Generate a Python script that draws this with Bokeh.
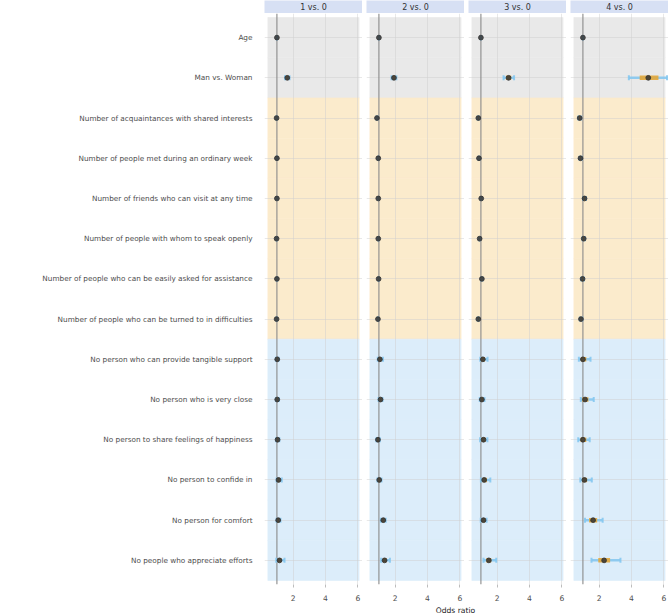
from bokeh.plotting import figure
from bokeh.models import (Range1d, FactorRange, FixedTicker, Span, Whisker,
                          ColumnDataSource, Spacer, TeeHead)
from bokeh.layouts import row, column
from bokeh.embed import file_html
from bokeh.resources import INLINE
from bokeh.core.properties import value

# ---------------- data ----------------
categories = [
    "Age",
    "Man vs. Woman",
    "Number of acquaintances with shared interests",
    "Number of people met during an ordinary week",
    "Number of friends who can visit at any time",
    "Number of people with whom to speak openly",
    "Number of people who can be easily asked for assistance",
    "Number of people who can be turned to in difficulties",
    "No person who can provide tangible support",
    "No person who is very close",
    "No person to share feelings of happiness",
    "No person to confide in",
    "No person for comfort",
    "No people who appreciate efforts",
]
groups = ["demo"] * 2 + ["network"] * 6 + ["support"] * 6

panel_labels = ["1 vs. 0", "2 vs. 0", "3 vs. 0", "4 vs. 0"]
x_ticks = [2, 4, 6]
x_title = "Odds ratio"

est_1 = [1.00, 1.64, 0.98, 1.00, 1.00, 0.98, 1.00, 0.98, 1.02, 1.02, 1.04, 1.10, 1.08, 1.16]
lo95_1 = [0.99, 1.50, 0.96, 0.98, 0.98, 0.96, 0.98, 0.96, 0.94, 0.94, 0.95, 0.98, 0.98, 0.96]
hi95_1 = [1.01, 1.78, 1.00, 1.02, 1.02, 1.00, 1.02, 1.00, 1.10, 1.12, 1.15, 1.30, 1.22, 1.47]
lo50_1 = [0.995, 1.58, 0.97, 0.99, 0.99, 0.97, 0.99, 0.97, 0.98, 0.98, 0.99, 1.04, 1.03, 1.06]
hi50_1 = [1.005, 1.70, 0.99, 1.01, 1.01, 0.99, 1.01, 0.99, 1.06, 1.06, 1.09, 1.17, 1.14, 1.28]

est_2 = [1.00, 1.93, 0.88, 0.96, 0.96, 0.96, 0.98, 0.94, 1.06, 1.10, 0.94, 1.02, 1.27, 1.35]
lo95_2 = [0.99, 1.78, 0.85, 0.94, 0.94, 0.94, 0.96, 0.92, 0.93, 0.98, 0.84, 0.91, 1.12, 1.14]
hi95_2 = [1.01, 2.08, 0.91, 0.98, 0.98, 0.98, 1.00, 0.96, 1.25, 1.22, 1.06, 1.16, 1.42, 1.68]
lo50_2 = [0.995, 1.86, 0.87, 0.95, 0.95, 0.95, 0.97, 0.93, 0.99, 1.04, 0.89, 0.96, 1.20, 1.25]
hi50_2 = [1.005, 2.00, 0.89, 0.97, 0.97, 0.97, 0.99, 0.95, 1.14, 1.16, 1.00, 1.09, 1.34, 1.47]

est_3 = [1.00, 2.71, 0.84, 0.88, 1.02, 0.92, 1.06, 0.84, 1.12, 1.06, 1.16, 1.20, 1.16, 1.49]
lo95_3 = [0.99, 2.40, 0.80, 0.85, 0.99, 0.89, 1.02, 0.80, 0.96, 0.93, 0.95, 1.00, 0.99, 1.16]
hi95_3 = [1.01, 3.05, 0.88, 0.91, 1.05, 0.95, 1.10, 0.88, 1.41, 1.22, 1.40, 1.58, 1.35, 1.95]
lo50_3 = [0.995, 2.55, 0.82, 0.87, 1.01, 0.91, 1.04, 0.82, 1.03, 1.00, 1.05, 1.10, 1.08, 1.33]
hi50_3 = [1.005, 2.87, 0.86, 0.89, 1.03, 0.93, 1.08, 0.86, 1.25, 1.13, 1.28, 1.37, 1.26, 1.64]

est_4 = [1.00, 5.04, 0.80, 0.85, 1.10, 1.05, 0.98, 0.88, 1.00, 1.13, 1.00, 1.09, 1.63, 2.31]
lo95_4 = [0.99, 3.84, 0.72, 0.79, 1.02, 0.98, 0.91, 0.81, 0.75, 0.87, 0.71, 0.84, 1.13, 1.53]
hi95_4 = [1.01, 6.20, 0.89, 0.92, 1.19, 1.13, 1.06, 0.96, 1.47, 1.67, 1.42, 1.55, 2.22, 3.32]
lo50_4 = [0.995, 4.51, 0.76, 0.82, 1.06, 1.01, 0.95, 0.85, 0.87, 0.96, 0.85, 0.96, 1.38, 1.95]
hi50_4 = [1.005, 5.67, 0.84, 0.88, 1.14, 1.09, 1.02, 0.92, 1.21, 1.34, 1.21, 1.26, 1.88, 2.68]

panel_data = [
    (est_1, lo95_1, hi95_1, lo50_1, hi50_1),
    (est_2, lo95_2, hi95_2, lo50_2, hi50_2),
    (est_3, lo95_3, hi95_3, lo50_3, hi50_3),
    (est_4, lo95_4, hi95_4, lo50_4, hi50_4),
]

# ---------------- styles ----------------
FONT = "DejaVu Sans"
GROUP_COLORS = {"demo": "#E9E9E9", "network": "#FBEBCC", "support": "#DCEDFA"}
STRIP_COLOR = "#D7E0F4"
ORANGE = "#E3A73A"
BLUE = "#86C8EF"
POINT = "#333333"
GRID = "#CFCFCF"
TEXT = "#4D4D4D"

X0, X1 = 0.233, 6.29
SHADE_L, SHADE_R = 0.44, 6.08
FRAME_W, FRAME_H = 98, 571
LEFT, GAP, STRIP_H, BOTTOM, TITLE_H = 264, 4, 13, 18, 11
TOTAL_W = LEFT + 4 * FRAME_W + 3 * GAP
TITLE_X = 455

factors = list(reversed(categories))
shade = [GROUP_COLORS[g] for g in groups]

panels = []
strips = []
for i, (lab, (est, lo95, hi95, lo50, hi50)) in enumerate(zip(panel_labels, panel_data)):
    src = ColumnDataSource(dict(cat=categories, shade=shade, est=est,
                                lo95=lo95, hi95=hi95, lo50=lo50, hi50=hi50))
    p = figure(frame_width=FRAME_W, frame_height=FRAME_H,
               x_range=Range1d(X0, X1),
               y_range=FactorRange(factors=factors, range_padding=0.1,
                                   range_padding_units="absolute"),
               y_axis_location="left" if i == 0 else None,
               output_backend="svg", toolbar_location=None,
               min_border_left=LEFT if i == 0 else 0, min_border_right=0,
               min_border_top=0, min_border_bottom=BOTTOM)
    p.outline_line_color = None
    p.background_fill_color = "white"
    p.border_fill_color = "white"

    # shaded group bands
    p.hbar(y="cat", height=1, left=SHADE_L, right=SHADE_R, fill_color="shade",
           line_color="shade", line_width=0.6, source=src, level="image")

    p.xgrid.grid_line_color = GRID
    p.xgrid.grid_line_alpha = 0.6
    p.xgrid.grid_line_width = 0.8
    p.ygrid.grid_line_color = GRID
    p.ygrid.grid_line_alpha = 0.6
    p.ygrid.grid_line_width = 0.8

    p.add_layout(Span(location=1, dimension="height", line_color="#8A8A8A",
                      line_width=1.1, level="underlay"))

    wh = Whisker(source=src, base="cat", lower="lo95", upper="hi95",
                 dimension="width", line_color=BLUE, line_width=2.5, line_alpha=0.9,
                 upper_head=TeeHead(size=5, line_color=BLUE, line_width=2, line_alpha=0.9),
                 lower_head=TeeHead(size=5, line_color=BLUE, line_width=2, line_alpha=0.9))
    p.add_layout(wh)

    p.segment(x0="lo50", x1="hi50", y0="cat", y1="cat", line_width=4.5,
              line_color=ORANGE, line_alpha=0.9, source=src)
    p.scatter(x="est", y="cat", size=4.8, fill_color=POINT, line_color=POINT,
              alpha=0.85, source=src)

    xa = p.xaxis[0]
    xa.ticker = FixedTicker(ticks=x_ticks)
    xa.axis_line_color = None
    xa.major_tick_in = 0
    xa.major_tick_out = 3
    xa.major_tick_line_color = "#BDBDBD"
    xa.minor_tick_line_color = None
    xa.major_label_text_font = FONT
    xa.major_label_text_font_size = "7.6px"
    xa.major_label_text_color = TEXT
    xa.major_label_standoff = 7

    if i == 0:
        ya = p.yaxis[0]
        ya.axis_line_color = None
        ya.major_tick_line_color = None
        ya.major_tick_out = 0
        ya.major_tick_in = 0
        ya.major_label_standoff = 12
        ya.major_label_text_font = FONT
        ya.major_label_text_font_size = "7.3px"
        ya.major_label_text_color = TEXT
    panels.append(p)

    s = figure(frame_width=FRAME_W, frame_height=STRIP_H,
               x_range=Range1d(0, 1), y_range=Range1d(0, 1),
               x_axis_location=None, y_axis_location=None,
               output_backend="svg", toolbar_location=None, min_border=0)
    s.grid.visible = False
    s.outline_line_color = None
    s.background_fill_color = STRIP_COLOR
    s.border_fill_color = "white"
    s.text(x=[0.5], y=[0.45], text=[lab], text_align="center",
           text_baseline="middle", text_font=value(FONT),
           text_font_size="8px", text_color="#333333")
    strips.append(s)

# axis title row
t = figure(frame_width=TOTAL_W, frame_height=TITLE_H,
           x_range=Range1d(0, TOTAL_W), y_range=Range1d(0, 1),
           x_axis_location=None, y_axis_location=None,
           output_backend="svg", toolbar_location=None, min_border=0)
t.grid.visible = False
t.outline_line_color = None
t.background_fill_color = "white"
t.border_fill_color = "white"
t.text(x=[TITLE_X], y=[0.5], text=[x_title], text_align="center",
       text_baseline="middle", text_font=value(FONT),
       text_font_size="7.6px", text_color="#222222")

layout = column(
    row(Spacer(width=LEFT - GAP, height=STRIP_H), *strips, spacing=GAP),
    row(*panels, spacing=GAP),
    t,
    spacing=0,
)

open("out.html", "w").write(file_html(layout, INLINE))
